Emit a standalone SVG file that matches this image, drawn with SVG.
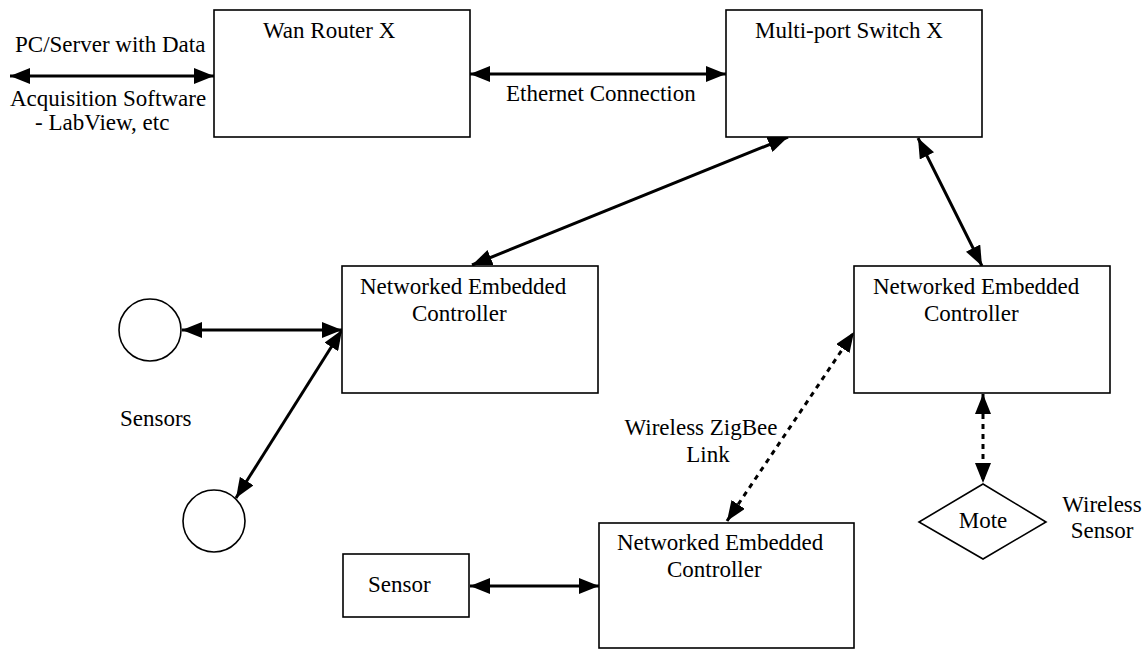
<svg xmlns="http://www.w3.org/2000/svg" width="1146" height="649" viewBox="0 0 1146 649">
<defs>
<marker id="ah" markerUnits="userSpaceOnUse" markerWidth="20" markerHeight="16" refX="20" refY="8" orient="auto-start-reverse" viewBox="0 0 20 16">
<path d="M0,0 L20,8 L0,16 z" fill="#000"/>
</marker>
<style>
.box{fill:#fff;stroke:#000;stroke-width:1.6}
.t{font-family:"Liberation Serif","Times New Roman",serif;font-size:23px;fill:#000}
.c{stroke:#000;stroke-width:3;fill:none;marker-start:url(#ah);marker-end:url(#ah)}
.d{stroke-dasharray:5 5}
</style>
</defs>
<rect width="1146" height="649" fill="#fff"/>
<g id="connectors">
<line class="c" x1="10" y1="76" x2="214" y2="76"/>
<line class="c" x1="470" y1="74" x2="726" y2="74"/>
<line class="c" x1="472" y1="265" x2="788" y2="137"/>
<line class="c" x1="918" y1="138" x2="982" y2="266"/>
<line class="c" x1="182" y1="330" x2="342" y2="330"/>
<line class="c" x1="236" y1="498" x2="342" y2="330"/>
<line class="c d" x1="727" y1="521" x2="854" y2="332"/>
<line class="c d" x1="983" y1="394" x2="983" y2="483"/>
<line class="c" x1="470" y1="586" x2="599" y2="586"/>
</g>
<g id="pc-label">
<text class="t" x="15" y="52">PC/Server with Data</text>
<text class="t" x="10" y="106">Acquisition Software</text>
<text class="t" x="35" y="130">- LabView, etc</text>
</g>
<g id="ethernet-label">
<text class="t" x="506" y="101">Ethernet Connection</text>
</g>
<g id="wan-router">
<rect class="box" x="214" y="10" width="256" height="127"/>
<text class="t" x="263" y="38">Wan Router X</text>
</g>
<g id="switch">
<rect class="box" x="726" y="10" width="256" height="127"/>
<text class="t" x="755" y="38">Multi-port Switch X</text>
</g>
<g id="nec1">
<rect class="box" x="342" y="266" width="256" height="127"/>
<text class="t" x="360" y="294">Networked Embedded</text>
<text class="t" x="412" y="321">Controller</text>
</g>
<g id="nec2">
<rect class="box" x="854" y="266" width="256" height="127"/>
<text class="t" x="873" y="294">Networked Embedded</text>
<text class="t" x="924" y="321">Controller</text>
</g>
<g id="nec3">
<rect class="box" x="599" y="523" width="255" height="125"/>
<text class="t" x="617" y="550">Networked Embedded</text>
<text class="t" x="667" y="577">Controller</text>
</g>
<g id="sensor1">
<circle class="box" cx="150" cy="330" r="31"/>
</g>
<g id="sensor2">
<circle class="box" cx="214" cy="521" r="31"/>
</g>
<g id="sensors-label">
<text class="t" x="120" y="426">Sensors</text>
</g>
<g id="sensor-box">
<rect class="box" x="343" y="554" width="126" height="63"/>
<text class="t" x="368" y="592">Sensor</text>
</g>
<g id="zigbee-label">
<text class="t" x="701" y="435" text-anchor="middle">Wireless ZigBee</text>
<text class="t" x="708" y="462" text-anchor="middle">Link</text>
</g>
<g id="mote">
<polygon class="box" points="983,484 1046,522 983,559 919,522"/>
<text class="t" x="983" y="528" text-anchor="middle">Mote</text>
</g>
<g id="wireless-sensor-label">
<text class="t" x="1102" y="512" text-anchor="middle">Wireless</text>
<text class="t" x="1102" y="538" text-anchor="middle">Sensor</text>
</g>
</svg>
